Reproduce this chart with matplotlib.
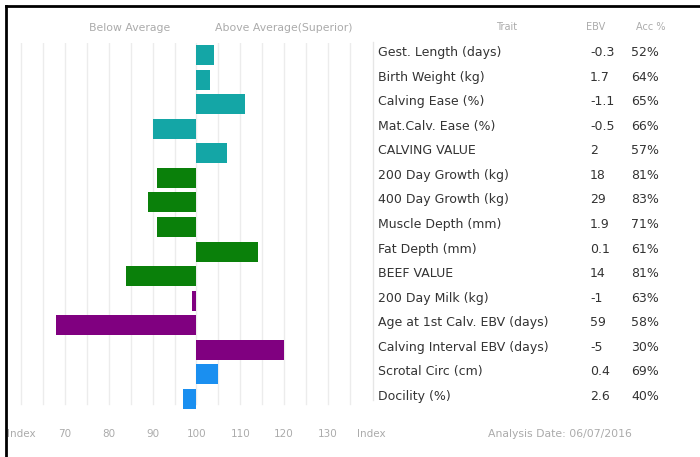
import matplotlib
matplotlib.use("Agg")
import matplotlib.pyplot as plt
import matplotlib.transforms as mtransforms
from matplotlib.lines import Line2D

traits = ["Gest. Length (days)", "Birth Weight (kg)", "Calving Ease (%)",
          "Mat.Calv. Ease (%)", "CALVING VALUE", "200 Day Growth (kg)",
          "400 Day Growth (kg)", "Muscle Depth (mm)", "Fat Depth (mm)",
          "BEEF VALUE", "200 Day Milk (kg)", "Age at 1st Calv. EBV (days)",
          "Calving Interval EBV (days)", "Scrotal Circ (cm)", "Docility (%)"]
ebv = ["-0.3", "1.7", "-1.1", "-0.5", "2", "18", "29", "1.9", "0.1", "14",
       "-1", "59", "-5", "0.4", "2.6"]
acc = ["52%", "64%", "65%", "66%", "57%", "81%", "83%", "71%", "61%", "81%",
       "63%", "58%", "30%", "69%", "40%"]
index_vals = [104, 103, 111, 90, 107, 91, 89, 91, 114, 84, 99, 68, 120, 105, 97]
groups = ["calving"] * 5 + ["growth"] * 5 + ["maternal"] * 3 + ["other"] * 2
tick_vals = [60, 70, 80, 90, 100, 110, 120, 130, 140]
tick_labels = ["Index", "70", "80", "90", "100", "110", "120", "130", "Index"]

group_colors = {"calving": "#14a6a6", "growth": "#0a800a",
                "maternal": "#800080", "other": "#1a8ff0"}

W, H = 700, 457
fig = plt.figure(figsize=(W / 100, H / 100), dpi=100)
plt.rcParams['font.family'] = ['DejaVu Sans']

# bar area
ax = fig.add_axes([10 / W, 1 - 411.3 / H, 350 / W, 368.6 / H])
ax.set_xlim(57.42, 137.33)
ax.set_ylim(14.5, -0.5)
for s in ax.spines.values():
    s.set_visible(False)
ax.set_xticks([])
ax.set_yticks([])
for g in range(60, 136, 5):
    ax.axvline(g, ymin=0.02, ymax=1, color="#ececec", lw=1, zorder=0)

base = 100
ypos = list(range(len(traits)))
ax.barh(ypos, [v - base for v in index_vals], left=base, height=0.81,
        color=[group_colors[g] for g in groups], zorder=2)

# tick labels at bottom
grey = "#ababab"
tr_x = mtransforms.blended_transform_factory(ax.transData, fig.transFigure)
for v, lab in zip(tick_vals, tick_labels):
    ax.text(v, 1 - 434 / H, lab, transform=tr_x, ha="center", va="center",
            fontsize=7.5, color=grey, clip_on=False)

# headers
fig.text(130 / W, 1 - 28 / H, "Below Average", ha="center", va="center",
         fontsize=7.8, color=grey)
fig.text(284 / W, 1 - 28 / H, "Above Average(Superior)", ha="center",
         va="center", fontsize=7.8, color=grey)
fig.text(507 / W, 1 - 27 / H, "Trait", ha="center", va="center",
         fontsize=7, color=grey)
fig.text(596 / W, 1 - 27 / H, "EBV", ha="center", va="center",
         fontsize=7, color=grey)
fig.text(651 / W, 1 - 27 / H, "Acc %", ha="center", va="center",
         fontsize=7, color=grey)
fig.text(560 / W, 1 - 434 / H, "Analysis Date: 06/07/2016", ha="center",
         va="center", fontsize=7.8, color=grey)

# table rows
tr_y = mtransforms.blended_transform_factory(fig.transFigure, ax.transData)
for i in ypos:
    fig.text(378 / W, i - 0.1, traits[i], transform=tr_y, ha="left",
             va="center", fontsize=9, color="#333333")
    fig.text(590 / W, i - 0.1, ebv[i], transform=tr_y, ha="left",
             va="center", fontsize=9, color="#333333")
    fig.text(631 / W, i - 0.1, acc[i], transform=tr_y, ha="left",
             va="center", fontsize=9, color="#333333")

# separator line left of the table
fig.add_artist(Line2D([373 / W, 373 / W], [1 - 42 / H, 1 - 400 / H],
                      color="#e6e6e6", lw=1))

# frame: top and left edges
fig.add_artist(Line2D([6 / W, 1], [1 - 5.5 / H, 1 - 5.5 / H],
                      color="black", lw=2))
fig.add_artist(Line2D([6 / W, 6 / W], [1 - 5.5 / H, 0],
                      color="black", lw=2))

fig.savefig("out.png", dpi=100)
